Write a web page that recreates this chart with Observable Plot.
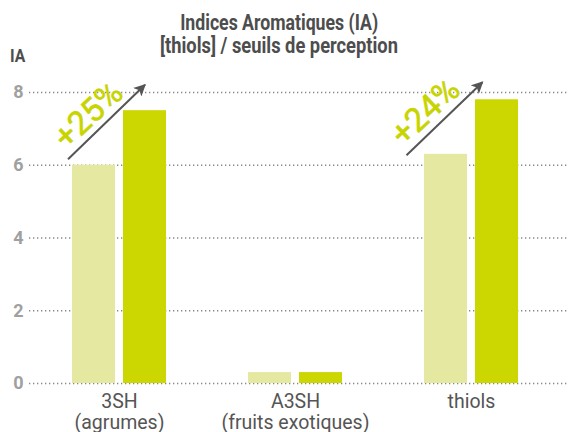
<!DOCTYPE html>
<html><head><meta charset="utf-8">
<script src="https://cdn.jsdelivr.net/npm/d3@7"></script>
<script src="https://cdn.jsdelivr.net/npm/@observablehq/plot@0.6"></script>
<style>
body{margin:0;background:#fff;}
#wrap{position:relative;width:568px;height:432px;overflow:hidden;font-family:Roboto,sans-serif;}
.tl{position:absolute;left:0;width:558px;text-align:center;font-weight:bold;font-size:22px;line-height:26px;color:#4d4d4d;white-space:nowrap;}
.tl span{display:inline-block;transform-origin:50% 50%;}
#ylab{position:absolute;left:10px;top:45px;font-weight:bold;font-size:18.5px;line-height:22px;color:#4d4d4d;transform:scaleX(0.85);transform-origin:0 0;}
#wrap svg{position:absolute;left:0;top:0;}
</style></head>
<body><div id="wrap">
<div class="tl" style="top:10px"><span id="t1">Indices Aromatiques (IA)</span></div>
<div class="tl" style="top:33px"><span id="t2">[thiols] / seuils de perception</span></div>
<div id="ylab">IA</div>
</div>
<script>
const categories = ["3SH", "A3SH", "thiols"];
const categoryLabels = ["3SH\n(agrumes)", "A3SH\n(fruits exotiques)", "thiols"];
const before = [6.0, 0.3, 6.3];
const after = [7.5, 0.3, 7.8];
const yTicks = [0, 2, 4, 6, 8];

// annotations
const annCats = ["3SH", "thiols"];
const annText = ["+25%", "+24%"];
const annArrowFrom = [6.15, 6.26];
const annArrowTo = [8.2, 8.27];
const annTextY = [7.38, 7.47];

const rows = categories.map((c, i) => ({cat: c, before: before[i], after: after[i]}));
const labelOf = new Map(categories.map((c, i) => [c, categoryLabels[i]]));
const ann = annCats.map((c, i) => ({cat: c, y: annTextY[i], t: annText[i]}));

const plot = Plot.plot({
  width: 568, height: 432,
  marginTop: 92, marginBottom: 49, marginLeft: 29, marginRight: 0,
  style: {fontFamily: "Roboto, sans-serif", background: "transparent"},
  x: {domain: categories, padding: 0, paddingOuter: 0.029, align: 0.2, label: null},
  y: {domain: [0, 8], label: null},
  marks: [
    Plot.gridY(yTicks, {stroke: "#888", strokeOpacity: 1, strokeWidth: 1.3, strokeDasharray: "1.3,2.7"}),
    Plot.barY(rows, {x: "cat", y: "before", fill: "#e5e8a0", insetLeft: 41, insetRight: 92}),
    Plot.barY(rows, {x: "cat", y: "after", fill: "#ccd600", insetLeft: 92, insetRight: 41}),
    Plot.axisY({ticks: yTicks, tickSize: 0, tickPadding: 6, fontSize: 18, fontWeight: "bold", fill: "#a0a0a0", textAnchor: "end"}),
    Plot.axisX({tickSize: 0, tickPadding: 9, fontSize: 19.5, fill: "#555", lineHeight: 1.1, tickFormat: d => labelOf.get(d)}),
    Plot.text(ann.slice(0, 1), {x: "cat", y: "y", text: "t", rotate: -43, dx: -31, fontSize: 33, fill: "#c8d400", stroke: "#c8d400", strokeWidth: 0.6}),
    Plot.text(ann.slice(1, 2), {x: "cat", y: "y", text: "t", rotate: -43, dx: -46, fontSize: 33, fill: "#c8d400", stroke: "#c8d400", strokeWidth: 0.6})
  ]
});

document.getElementById("wrap").appendChild(plot);

// fit the condensed-looking title lines
[["t1", 198], ["t2", 238]].forEach(([id, w]) => {
  const el = document.getElementById(id);
  const cw = el.getBoundingClientRect().width;
  el.style.transform = `scaleX(${w / cw})`;
});

// arrows drawn with the plot's own scales
const xs = plot.scale("x"), ys = plot.scale("y");
const svg = d3.select(plot);
svg.append("defs").append("marker")
  .attr("id", "ah").attr("viewBox", "0 0 10 10").attr("refX", 9).attr("refY", 5)
  .attr("markerWidth", 6).attr("markerHeight", 6).attr("markerUnits", "strokeWidth").attr("orient", "auto")
  .append("path").attr("d", "M0,0 L10,5 L0,10 L2.5,5 Z").attr("fill", "#555");
const fromDx = [-51, -64.5], toDx = [26, 11.5];
annCats.forEach((c, i) => {
  const cx = xs.apply(c) + xs.bandwidth / 2;
  svg.append("line")
    .attr("x1", cx + fromDx[i]).attr("y1", ys.apply(annArrowFrom[i]))
    .attr("x2", cx + toDx[i]).attr("y2", ys.apply(annArrowTo[i]))
    .attr("stroke", "#555").attr("stroke-width", 2).attr("marker-end", "url(#ah)");
});
</script>
</body></html>
